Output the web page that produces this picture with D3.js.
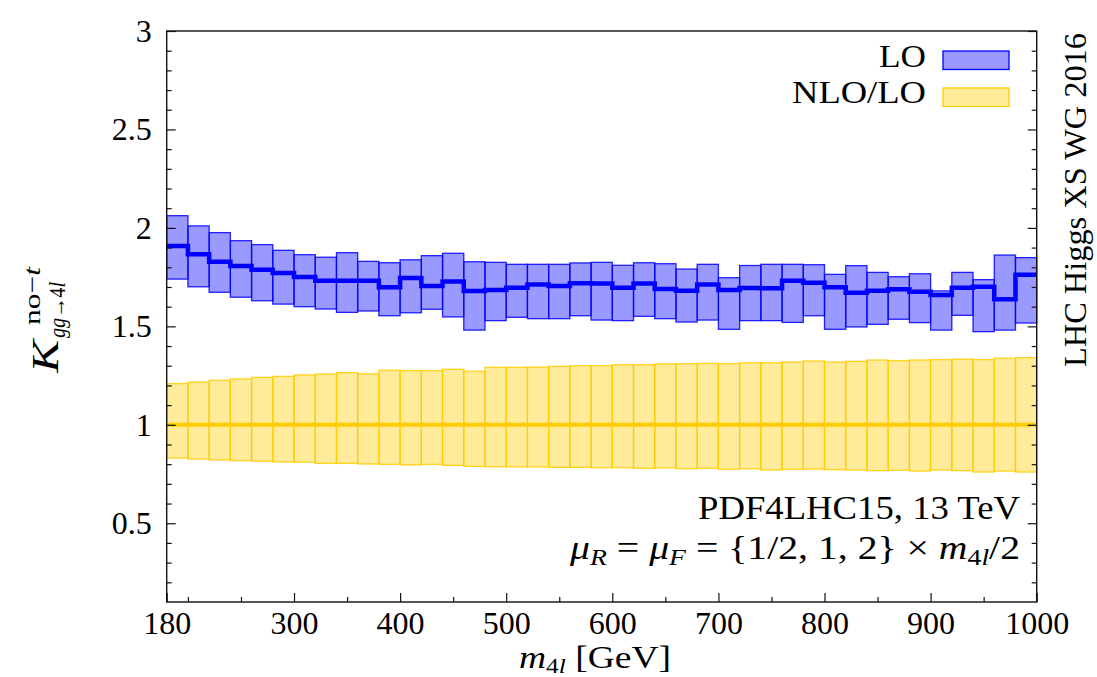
<!DOCTYPE html>
<html>
<head>
<meta charset="utf-8">
<script src="https://cdn.jsdelivr.net/npm/d3@7"></script>
<style>
  html, body { margin: 0; padding: 0; background: #fff; }
  svg { display: block; }
  text { font-family: "Liberation Serif", "DejaVu Serif", serif; fill: #000; }
</style>
</head>
<body>
<svg id="chart" width="1097" height="677"></svg>
<script>
// Bin lower edges in m4l [GeV]; every bin is 20 GeV wide
const binLow = [180, 200, 220, 240, 260, 280, 300, 320, 340, 360,
                380, 400, 420, 440, 460, 480, 500, 520, 540, 560,
                580, 600, 620, 640, 660, 680, 700, 720, 740, 760,
                780, 800, 820, 840, 860, 880, 900, 920, 940, 960, 980];
const binWidth = 20;

// LO K-factor: central value and scale-variation envelope
const loCentral = [1.908, 1.866, 1.828, 1.806, 1.788, 1.771, 1.751, 1.732, 1.732, 1.732,
                   1.698, 1.745, 1.705, 1.728, 1.680, 1.685, 1.696, 1.713, 1.705, 1.719,
                   1.717, 1.696, 1.717, 1.690, 1.681, 1.712, 1.685, 1.695, 1.693, 1.732,
                   1.722, 1.698, 1.671, 1.681, 1.688, 1.676, 1.659, 1.696, 1.701, 1.637, 1.762];
const loUp      = [2.062, 2.010, 1.976, 1.935, 1.915, 1.886, 1.864, 1.851, 1.874, 1.830,
                   1.823, 1.838, 1.859, 1.871, 1.828, 1.825, 1.815, 1.815, 1.815, 1.822,
                   1.825, 1.810, 1.823, 1.818, 1.791, 1.815, 1.747, 1.809, 1.815, 1.815,
                   1.813, 1.764, 1.808, 1.774, 1.752, 1.767, 1.680, 1.774, 1.737, 1.862, 1.849];
const loDown    = [1.740, 1.701, 1.673, 1.648, 1.630, 1.613, 1.600, 1.588, 1.571, 1.578,
                   1.554, 1.569, 1.587, 1.548, 1.481, 1.529, 1.546, 1.539, 1.539, 1.554,
                   1.532, 1.529, 1.551, 1.539, 1.522, 1.532, 1.485, 1.529, 1.529, 1.520,
                   1.554, 1.485, 1.497, 1.510, 1.536, 1.519, 1.481, 1.556, 1.473, 1.481, 1.517];

// NLO/LO ratio: central value and envelope
const nloCentral = [1, 1, 1, 1, 1, 1, 1, 1, 1, 1, 1, 1, 1, 1, 1, 1, 1, 1, 1, 1, 1,
                    1, 1, 1, 1, 1, 1, 1, 1, 1, 1, 1, 1, 1, 1, 1, 1, 1, 1, 1, 1];
const nloUp   = [1.209, 1.217, 1.226, 1.233, 1.241, 1.246, 1.253, 1.258, 1.265, 1.259,
                 1.277, 1.275, 1.275, 1.282, 1.272, 1.292, 1.292, 1.293, 1.297, 1.300,
                 1.300, 1.305, 1.305, 1.309, 1.310, 1.312, 1.310, 1.315, 1.315, 1.319,
                 1.324, 1.319, 1.322, 1.329, 1.326, 1.329, 1.331, 1.334, 1.331, 1.338, 1.341];
const nloDown = [0.831, 0.826, 0.821, 0.818, 0.815, 0.811, 0.810, 0.804, 0.804, 0.801,
                 0.799, 0.796, 0.799, 0.794, 0.789, 0.787, 0.786, 0.786, 0.784, 0.784,
                 0.782, 0.782, 0.779, 0.781, 0.777, 0.779, 0.774, 0.777, 0.770, 0.774,
                 0.775, 0.772, 0.770, 0.767, 0.769, 0.765, 0.770, 0.767, 0.760, 0.765, 0.760];

// Axis ticks
const xTickLabels = [180, 300, 400, 500, 600, 700, 800, 900, 1000];
const xMinorTicks = [200, 250, 350, 450, 550, 650, 750, 850, 950];
const yTickLabels = [0.5, 1, 1.5, 2, 2.5, 3];

const legendLabels = ["LO", "NLO/LO"];

const blue = "#0000ff", gold = "#ffcc00";

const svg = d3.select("#chart");
const plotLeft = 166.7, plotRight = 1036.7, plotTop = 31, plotBottom = 602;
const x = d3.scaleLinear().domain([180, 1000]).range([plotLeft, plotRight]);
const y = d3.scaleLinear().domain([0.1, 3]).range([plotBottom, plotTop]);

function bins(lo, up, c) {
  return binLow.map((b, i) => ({ x0: b, x1: b + binWidth, lo: lo[i], up: up[i], c: c[i] }));
}
const loBins = bins(loDown, loUp, loCentral);
const nloBins = bins(nloDown, nloUp, nloCentral);

function drawBand(data, color) {
  svg.append("g").selectAll("rect").data(data).join("rect")
    .attr("x", d => x(d.x0))
    .attr("width", d => x(d.x1) - x(d.x0))
    .attr("y", d => y(d.up))
    .attr("height", d => y(d.lo) - y(d.up))
    .attr("fill", color).attr("fill-opacity", 0.4)
    .attr("stroke", color).attr("stroke-opacity", 0.85).attr("stroke-width", 1.3);
}
function drawStep(data, color, w) {
  const pts = [];
  data.forEach(d => { pts.push([d.x0, d.c]); pts.push([d.x1, d.c]); });
  const line = d3.line().x(p => x(p[0])).y(p => y(p[1]));
  svg.append("path").attr("d", line(pts))
    .attr("fill", "none").attr("stroke", color).attr("stroke-width", w)
    .attr("stroke-linejoin", "miter");
}

drawBand(nloBins, gold);
drawBand(loBins, blue);
drawStep(nloBins, gold, 4);
drawStep(loBins, blue, 4.5);

// Axes: ticks point inward, left and right carry y ticks, bottom carries x ticks
const yMinor = y.ticks(30).filter(v => v > 0.1 && v < 3 && !yTickLabels.some(t => Math.abs(t - v) < 1e-6));
const axisFont = "32px";

const gL = svg.append("g").attr("transform", `translate(${plotLeft},0)`);
gL.call(d3.axisLeft(y).tickValues(yMinor).tickSize(-5).tickFormat(""));
gL.append("g").call(d3.axisLeft(y).tickValues(yTickLabels).tickSize(-9).tickPadding(15)
    .tickFormat(d3.format("~g")));
const gR = svg.append("g").attr("transform", `translate(${plotRight},0)`);
gR.call(d3.axisRight(y).tickValues(yMinor).tickSize(-5).tickFormat(""));
gR.append("g").call(d3.axisRight(y).tickValues(yTickLabels).tickSize(-9).tickFormat(""));
const gB = svg.append("g").attr("transform", `translate(0,${plotBottom})`);
gB.call(d3.axisBottom(x).tickValues(xMinorTicks).tickSize(-5).tickFormat(""));
gB.append("g").call(d3.axisBottom(x).tickValues(xTickLabels).tickSize(-9).tickPadding(9)
    .tickFormat(d3.format("d")));

svg.selectAll(".domain").remove();
svg.selectAll(".tick line").attr("stroke", "#111").attr("stroke-width", 1.2);
svg.selectAll(".tick text").style("font-family", "'Liberation Serif', serif").style("font-size", axisFont).attr("fill", "#000");

// Frame
svg.append("rect").attr("x", plotLeft).attr("y", plotTop)
  .attr("width", plotRight - plotLeft).attr("height", plotBottom - plotTop)
  .attr("fill", "none").attr("stroke", "#111").attr("stroke-width", 1.4);

// Legend
const legY = [67, 103], swY = [51, 88], legLen = [47, 134];
const legColors = [blue, gold];
legendLabels.forEach((t, i) => {
  svg.append("text").attr("x", 926).attr("y", legY[i]).attr("text-anchor", "end")
    .attr("textLength", legLen[i]).attr("lengthAdjust", "spacingAndGlyphs")
    .style("font-size", "32px").text(t);
  svg.append("rect").attr("x", 943).attr("y", swY[i]).attr("width", 66).attr("height", 18.5)
    .attr("fill", legColors[i]).attr("fill-opacity", 0.4)
    .attr("stroke", legColors[i]).attr("stroke-width", 1.3);
});

// Annotations
svg.append("text").attr("x", 1020).attr("y", 519).attr("text-anchor", "end")
  .attr("textLength", 322).attr("lengthAdjust", "spacingAndGlyphs")
  .style("font-size", "33px").text("PDF4LHC15, 13 TeV");
const t2 = svg.append("text").attr("x", 1020).attr("y", 559).attr("text-anchor", "end")
  .attr("textLength", 450).attr("lengthAdjust", "spacingAndGlyphs")
  .style("font-size", "33px");
t2.append("tspan").style("font-style", "italic").text("μ");
t2.append("tspan").style("font-style", "italic").style("font-size", "23px").attr("dy", 6).text("R");
t2.append("tspan").attr("dy", -6).text(" = ");
t2.append("tspan").style("font-style", "italic").text("μ");
t2.append("tspan").style("font-style", "italic").style("font-size", "23px").attr("dy", 6).text("F");
t2.append("tspan").attr("dy", -6).text(" = {1/2, 1, 2} × ");
t2.append("tspan").style("font-style", "italic").text("m");
t2.append("tspan").style("font-size", "23px").attr("dy", 6).text("4");
t2.append("tspan").style("font-size", "23px").style("font-style", "italic").text("l");
t2.append("tspan").attr("dy", -6).text("/2");

// x-axis title
const xt = svg.append("text").attr("x", 595).attr("y", 668).attr("text-anchor", "middle")
  .attr("textLength", 152).attr("lengthAdjust", "spacingAndGlyphs")
  .style("font-size", "31px");
xt.append("tspan").style("font-style", "italic").text("m");
xt.append("tspan").style("font-size", "21px").attr("dy", 5).text("4");
xt.append("tspan").style("font-size", "21px").style("font-style", "italic").text("l");
xt.append("tspan").attr("dy", -5).text(" [GeV]");

// y-axis title K^{no-t}_{gg→4l}
const yt = svg.append("g").attr("transform", "translate(58,373) rotate(-90)");
yt.append("text").attr("x", 0).attr("y", 0)
  .attr("textLength", 33).attr("lengthAdjust", "spacingAndGlyphs")
  .style("font-size", "38px").style("font-style", "italic").text("K");
const sub = yt.append("text").attr("x", 35).attr("y", 7)
  .attr("textLength", 56).attr("lengthAdjust", "spacingAndGlyphs").style("font-size", "23px");
sub.append("tspan").style("font-style", "italic").text("gg");
sub.append("tspan").text("→4");
sub.append("tspan").style("font-style", "italic").text("l");
const sup = yt.append("text").attr("x", 48).attr("y", -18)
  .attr("textLength", 58).attr("lengthAdjust", "spacingAndGlyphs").style("font-size", "24px");
sup.append("tspan").text("no−");
sup.append("tspan").style("font-style", "italic").text("t");

// Working group stamp
svg.append("text").attr("transform", "translate(1086,367) rotate(-90)")
  .attr("textLength", 334).attr("lengthAdjust", "spacingAndGlyphs")
  .style("font-size", "32px").text("LHC Higgs XS WG 2016");
</script>
</body>
</html>
